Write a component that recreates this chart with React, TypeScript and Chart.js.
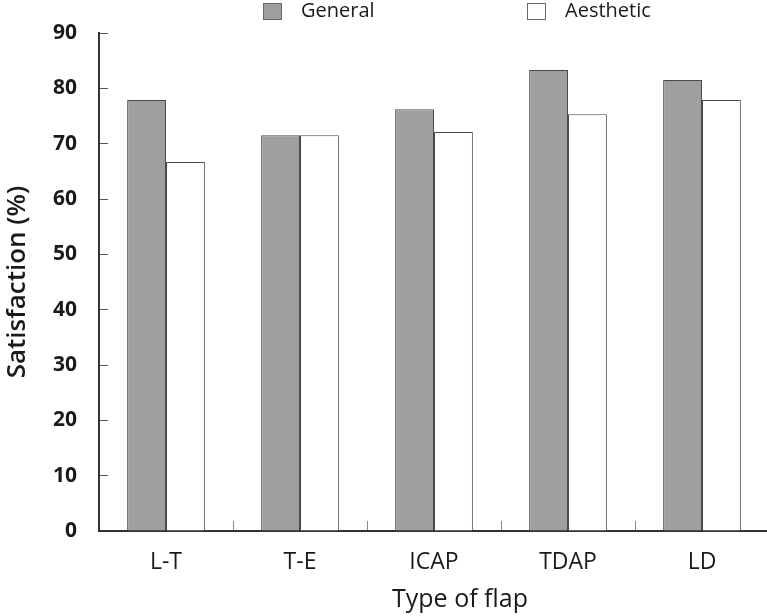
import React, { useEffect, useRef } from "react";
import { Chart, registerables } from "chart.js";

Chart.register(...registerables);

const categories = ["L-T", "T-E", "ICAP", "TDAP", "LD"];
const generalValues = [77.9, 71.5, 76.2, 83.3, 81.5];
const aestheticValues = [66.7, 71.5, 72.1, 75.3, 77.9];
const yTicks = [0, 10, 20, 30, 40, 50, 60, 70, 80, 90];
const seriesNames = ["General", "Aesthetic"];
const xTitle = "Type of flap";
const yTitle = "Satisfaction (%)";

const FONT = "'Open Sans', 'Noto Sans', sans-serif";
const GRAY = "#a09f9d";
const EDGE = "#4a4a4a";
const TEXT = "#1a1a1a";

const legendPlugin = {
  id: "customLegend",
  afterDraw(chart: any) {
    const ctx = chart.ctx;
    ctx.save();
    const items = [
      { label: seriesNames[0], fill: GRAY, x: 263 },
      { label: seriesNames[1], fill: "#ffffff", x: 527 },
    ];
    ctx.font = `20px ${FONT}`;
    ctx.textBaseline = "middle";
    ctx.textAlign = "left";
    for (const it of items) {
      ctx.fillStyle = it.fill;
      ctx.fillRect(it.x, 3, 18, 16);
      ctx.strokeStyle = "#666";
      ctx.lineWidth = 1;
      ctx.strokeRect(it.x + 0.5, 3.5, 18, 16);
      ctx.fillStyle = TEXT;
      ctx.fillText(it.label, it.x + 38, 11);
    }
    // x axis title (offset to the right of the axis centre, as in the original)
    const area = chart.chartArea;
    ctx.font = `25px ${FONT}`;
    ctx.textAlign = "center";
    ctx.textBaseline = "middle";
    ctx.fillText(xTitle, (area.left + area.right) / 2 + 26, 600);
    ctx.restore();
  },
};

export default function App() {
  const ref = useRef<HTMLCanvasElement>(null);
  useEffect(() => {
    if (!ref.current) return;
    const chart = new Chart(ref.current, {
      type: "bar",
      data: {
        labels: categories,
        datasets: [
          {
            label: seriesNames[0],
            data: generalValues,
            backgroundColor: GRAY,
            borderColor: EDGE,
            borderWidth: 1,
            categoryPercentage: 0.58,
            barPercentage: 1,
          },
          {
            label: seriesNames[1],
            data: aestheticValues,
            backgroundColor: "#ffffff",
            borderColor: EDGE,
            borderWidth: 1,
            categoryPercentage: 0.58,
            barPercentage: 1,
          },
        ],
      },
      options: {
        animation: false,
        responsive: false,
        maintainAspectRatio: false,
        devicePixelRatio: 1,
        layout: { padding: { top: 33, right: 1, bottom: 0, left: 0 } },
        plugins: {
          legend: { display: false },
          tooltip: { enabled: false },
        },
        scales: {
          x: {
            afterFit: (s: any) => {
              s.height = 85;
            },
            border: { display: true, color: "#333", width: 2 },
            grid: {
              offset: true,
              drawOnChartArea: false,
              drawTicks: true,
              tickLength: -10,
              color: "#888",
              lineWidth: 1,
            },
            ticks: {
              padding: 28,
              color: TEXT,
              font: { family: FONT, size: 23 },
            },
            title: { display: false },
          },
          y: {
            min: 0,
            max: 90,
            afterFit: (s: any) => {
              s.width = 99;
              s.paddingTop = 0;
              s.paddingBottom = 0;
            },
            afterBuildTicks: (s: any) => {
              s.ticks = yTicks.map((v) => ({ value: v }));
            },
            border: { display: true, color: "#333", width: 2 },
            grid: {
              drawOnChartArea: false,
              drawTicks: true,
              tickLength: -9,
              color: "#555",
              lineWidth: 1,
            },
            ticks: {
              padding: 31,
              color: TEXT,
              font: { family: FONT, size: 21, weight: "bold" },
            },
            title: {
              display: true,
              text: yTitle,
              color: TEXT,
              font: { family: FONT, size: 26, weight: "600" },
              padding: { top: 2, bottom: 0 },
            },
          },
        },
      },
      plugins: [legendPlugin],
    });
    return () => chart.destroy();
  }, []);
  return (
    <div
      style={{
        position: "absolute",
        left: 0,
        top: 0,
        width: 767,
        height: 616,
        overflow: "hidden",
        background: "#fff",
      }}
    >
      <canvas ref={ref} width={770} height={616} style={{ display: "block" }} />
    </div>
  );
}
